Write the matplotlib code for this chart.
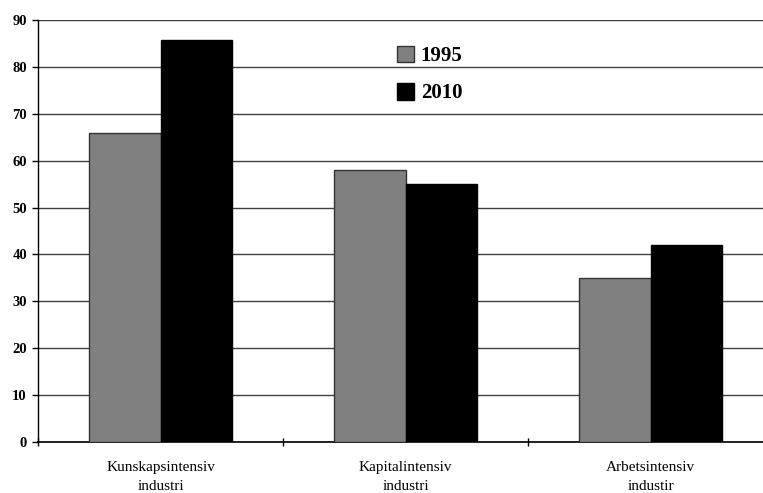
import matplotlib
matplotlib.use("Agg")
import matplotlib.pyplot as plt
import numpy as np

categories = ["Kunskapsintensiv\nindustri", "Kapitalintensiv\nindustri", "Arbetsintensiv\nindustir"]
series_names = ["1995", "2010"]
values_1995 = [66, 58, 35]
values_2010 = [85.7, 55, 42]
yticks = [0, 10, 20, 30, 40, 50, 60, 70, 80, 90]

W, H = 763, 493
fig = plt.figure(figsize=(W / 100, H / 100), dpi=100)
ax = fig.add_axes([38 / W, (H - 442) / H, 1 - 38 / W, (442 - 20) / H])

x = np.arange(len(categories))
bw = 0.29
b1 = ax.bar(x - bw / 2, values_1995, bw, color="#808080", edgecolor="#333333", linewidth=1, zorder=3, label=series_names[0])
b2 = ax.bar(x + bw / 2, values_2010, bw, color="#000000", edgecolor="#000000", linewidth=1, zorder=3, label=series_names[1])

ax.set_ylim(0, 90)
ax.set_xlim(-0.5, 2.5 - 10 / 245)
ax.set_yticks(yticks)
ax.yaxis.grid(True, color="#404040", linewidth=1)
ax.set_axisbelow(True)
for s in ["top", "right"]:
    ax.spines[s].set_visible(False)
ax.spines["left"].set_linewidth(1)
ax.spines["bottom"].set_linewidth(1.2)

ax.set_xticks(x)
ax.set_xticklabels(categories, family="Liberation Serif", fontsize=11, linespacing=1.55)
ax.tick_params(axis="x", length=0, pad=14)
ax.set_xticks([-0.5, 0.5, 1.5], minor=True)
ax.tick_params(axis="x", which="minor", length=6, direction="inout", width=1)
ax.tick_params(axis="y", length=4, direction="out", width=1, pad=4)
for t in ax.get_yticklabels():
    t.set_family("Liberation Serif")
    t.set_fontweight("bold")
    t.set_fontsize(10.5)

leg = ax.legend(loc="upper left", bbox_to_anchor=(340 / (W - 38), 1 - (27 - 20) / 422),
                frameon=False, prop={"family": "Liberation Serif", "weight": "bold", "size": 15},
                handlelength=0.85, handleheight=0.85, handletextpad=0.3, labelspacing=0.8)

fig.savefig("out.png", dpi=100)
